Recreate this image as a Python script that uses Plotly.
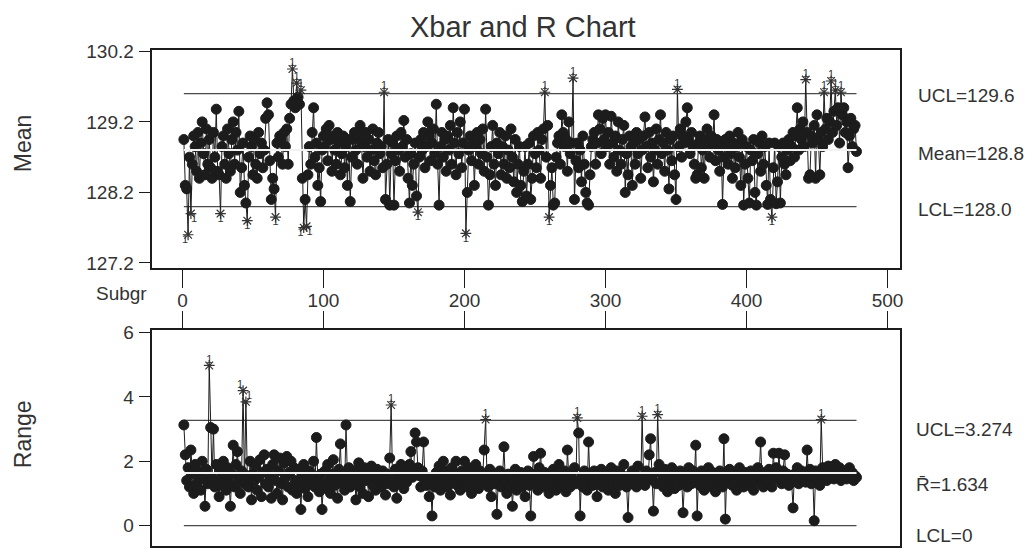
import plotly.graph_objects as go

# ---------------- data ----------------
mean_values = [
    128.95, 128.3, 128.25, 127.6, 128.7, 127.9, 128.6, 129.0, 128.85, 128.5, 129.05, 128.4, 128.9, 129.2, 128.75, 128.45, 129.1, 128.6, 128.95, 128.55,
    128.4, 129.05, 128.7, 129.38, 128.5, 128.45, 127.9, 128.85, 129.0, 128.6, 128.4, 129.1, 128.75, 128.5, 128.95, 129.2, 128.6, 129.05, 128.8, 129.35,
    128.2, 128.55, 128.9, 128.3, 128.05, 127.8, 128.7, 129.0, 128.85, 128.45, 128.95, 128.6, 128.4, 129.05, 128.75, 128.9, 128.55, 128.8, 129.25, 129.47,
    129.3, 128.65, 128.1, 128.4, 128.25, 127.85, 128.9, 128.7, 129.0, 128.95, 128.6, 129.05, 128.85, 129.1, 128.6, 129.25, 129.45, 129.95, 129.5, 129.4,
    129.75, 129.55, 129.45, 129.65, 128.4, 127.7, 128.1, 127.72, 128.45, 128.85, 128.6, 129.05, 129.4, 128.7, 128.9, 128.3, 128.55, 128.07, 128.8, 129.0,
    128.85, 129.1, 128.65, 129.15, 128.95, 128.5, 129.0, 128.8, 128.6, 129.05, 128.9, 128.45, 128.75, 129.0, 128.55, 128.85, 128.3, 128.95, 128.07, 128.7,
    128.95, 129.05, 128.8, 128.6, 129.0, 129.15, 128.9, 128.4, 128.85, 129.05, 128.7, 128.95, 128.5, 128.8, 129.1, 128.65, 128.45, 128.9, 129.05, 128.75,
    128.85, 128.55, 129.62, 128.1, 128.6, 128.95, 128.02, 128.75, 128.9, 128.02, 128.65, 129.0, 128.8, 128.5, 129.05, 128.85, 129.22, 128.7, 128.95, 128.4,
    128.05, 128.75, 128.3, 128.6, 128.9, 128.15, 127.92, 128.7, 128.95, 128.8, 129.05, 128.55, 128.85, 129.2, 129.0, 128.65, 128.9, 129.1, 128.75, 129.45,
    128.6, 128.02, 128.85, 129.05, 128.7, 128.95, 128.5, 129.0, 128.8, 129.15, 128.6, 129.4, 128.9, 128.45, 129.05, 128.75, 129.2, 128.55, 128.9, 129.38,
    127.62, 128.2, 128.8, 129.0, 128.65, 128.9, 128.3, 128.85, 129.05, 128.6, 128.95, 128.75, 129.1, 128.5, 129.38, 128.7, 128.02, 128.45, 128.85, 129.15,
    128.6, 128.3, 128.9, 128.75, 129.05, 128.45, 128.85, 128.6, 129.0, 128.4, 128.8, 128.55, 129.1, 128.7, 128.35, 128.95, 128.2, 128.6, 128.85, 128.3,
    128.07, 128.5, 128.85, 128.15, 128.6, 128.9, 128.1, 128.4, 129.0, 128.75, 128.55, 129.05, 128.8, 128.4, 128.95, 129.1, 129.62, 128.7, 129.15, 127.85,
    128.3, 128.55, 128.02, 128.05, 128.7, 128.9, 129.0, 128.6, 129.3, 129.05, 128.85, 128.95, 128.5, 129.2, 128.75, 128.9, 129.82, 128.1, 128.65, 128.9,
    128.55, 128.8, 128.35, 129.0, 128.6, 128.2, 128.05, 128.02, 128.45, 128.85, 128.95, 129.05, 128.6, 128.9, 129.3, 129.1, 128.75, 129.25, 128.95, 129.3,
    128.85, 129.05, 128.6, 129.28, 128.9, 128.7, 129.0, 128.5, 129.2, 128.8, 128.6, 128.95, 129.15, 128.2, 128.75, 128.45, 129.0, 128.85, 128.3, 128.9,
    128.6, 129.05, 128.75, 128.95, 128.4, 128.8, 129.0, 129.27, 128.85, 128.55, 129.05, 128.7, 128.9, 128.35, 128.8, 129.1, 128.6, 128.95, 129.3, 128.75,
    128.9, 128.5, 129.05, 128.8, 128.25, 128.95, 128.65, 129.0, 128.45, 128.1, 129.66, 128.85, 129.1, 128.7, 129.0, 128.9, 129.2, 129.4, 128.95, 128.75,
    129.05, 128.85, 128.6, 128.4, 128.45, 128.9, 129.0, 128.55, 128.8, 128.4, 128.95, 129.1, 128.85, 128.7, 129.0, 128.9, 129.3, 128.65, 128.95, 128.8,
    128.5, 128.9, 128.03, 128.7, 128.95, 128.85, 128.6, 129.0, 128.75, 128.4, 128.9, 128.55, 128.85, 129.05, 128.7, 128.3, 128.95, 128.02, 128.6, 128.85,
    128.4, 128.05, 128.8, 128.65, 128.95, 128.2, 128.02, 128.75, 128.9, 128.5, 129.0, 128.6, 128.85, 128.3, 128.03, 128.9, 128.1, 127.85, 128.55, 128.9,
    128.04, 128.35, 128.85, 128.05, 128.7, 128.9, 128.6, 128.45, 128.8, 128.95, 128.65, 128.85, 129.05, 128.7, 129.0, 129.4, 128.8, 129.1, 128.95, 129.2,
    128.85, 129.8, 129.05, 128.4, 128.45, 129.0, 128.9, 129.15, 128.4, 129.3, 128.95, 128.45, 129.05, 128.85, 129.62, 129.1, 129.25, 128.95, 129.2, 129.78,
    129.05, 129.35, 129.65, 129.15, 129.4, 128.9, 129.62, 129.3, 129.4, 129.05, 129.2, 128.55, 129.0, 129.25, 128.85, 129.1, 129.15, 128.78,
]

range_values = [
    3.13, 2.2, 1.4, 1.8, 1.2, 2.35, 1.6, 1.0, 1.9, 1.3, 1.7, 1.5, 1.1, 2.0, 1.45, 0.6, 1.75, 1.3, 4.98, 3.05,
    1.5, 3.0, 1.2, 1.9, 1.4, 0.9, 1.7, 1.25, 2.0, 1.5, 1.1, 1.8, 1.35, 0.6, 1.6, 2.5, 1.2, 1.9, 2.3, 1.45,
    1.0, 1.7, 4.2, 1.3, 3.85, 1.55, 1.2, 2.0, 0.8, 1.6, 1.4, 1.85, 1.1, 1.5, 2.05, 0.9, 1.65, 2.2, 1.3, 1.75,
    1.2, 1.55, 0.85, 1.9, 2.2, 1.4, 1.0, 1.7, 2.1, 1.3, 0.8, 1.95, 1.5, 2.15, 1.2, 1.65, 2.0, 1.1, 1.8, 1.4,
    1.0, 1.75, 1.3, 0.5, 1.6, 1.9, 1.15, 1.45, 0.9, 1.7, 1.3, 1.55, 2.0, 1.2, 2.74, 1.4, 1.05, 1.6, 0.5, 1.3,
    1.7, 1.15, 1.9, 1.4, 1.0, 1.6, 2.05, 1.25, 1.5, 0.85, 1.75, 2.54, 1.3, 1.6, 1.1, 3.13, 1.45, 1.8, 1.2, 1.55,
    1.35, 1.7, 0.8, 1.5, 1.95, 1.2, 1.6, 1.0, 1.8, 1.4, 1.65, 0.9, 1.5, 1.85, 1.25, 1.6, 1.1, 1.75, 1.4, 1.55,
    1.2, 1.7, 1.45, 0.95, 1.6, 1.3, 2.1, 3.75, 1.4, 1.2, 1.75, 0.85, 1.55, 1.3, 1.9, 1.45, 1.15, 1.7, 1.35, 1.6,
    1.9, 2.3, 1.5, 1.7, 2.88, 2.6, 1.8, 1.55, 1.2, 1.7, 2.6, 1.4, 1.25, 1.5, 0.9, 1.35, 0.3, 1.5, 1.2, 1.65,
    1.3, 1.85, 1.1, 1.55, 2.0, 1.4, 1.7, 1.2, 1.5, 0.95, 1.8, 1.35, 1.6, 2.0, 1.25, 1.5, 1.1, 1.7, 1.4, 2.0,
    1.55, 1.2, 1.8, 1.4, 1.0, 1.65, 1.3, 1.9, 1.5, 1.15, 1.7, 1.35, 1.6, 2.35, 3.3, 1.45, 1.2, 1.75, 0.9, 1.5,
    1.3, 1.6, 0.35, 1.45, 1.7, 1.2, 1.55, 2.45, 1.35, 1.0, 1.6, 1.25, 1.5, 0.6, 1.4, 1.75, 1.1, 1.5, 1.3, 1.65,
    1.2, 1.55, 0.9, 1.4, 1.7, 1.25, 0.3, 1.6, 2.15, 1.35, 1.5, 1.1, 1.8, 2.25, 1.45, 1.2, 1.65, 1.3, 1.5, 1.0,
    1.6, 1.3, 1.75, 1.45, 1.1, 1.55, 1.9, 1.25, 1.5, 1.35, 1.7, 1.05, 2.35, 1.5, 1.2, 1.65, 1.4, 1.8, 1.3, 3.35,
    2.88, 0.3, 1.5, 1.2, 1.7, 1.45, 1.1, 2.6, 1.35, 1.55, 1.25, 1.7, 1.4, 0.9, 1.6, 1.3, 1.75, 1.2, 1.5, 1.4,
    1.65, 1.1, 1.45, 1.8, 1.3, 1.55, 1.0, 1.7, 1.4, 1.25, 1.6, 1.35, 1.9, 1.5, 1.2, 0.25, 1.55, 1.4, 1.7, 1.3,
    1.6, 1.2, 1.85, 1.45, 1.3, 3.4, 1.55, 1.25, 1.7, 1.4, 2.2, 2.7, 1.5, 0.45, 1.65, 1.3, 3.45, 1.9, 1.35, 1.6,
    1.2, 1.75, 1.4, 1.05, 1.6, 1.3, 1.8, 1.5, 1.15, 1.65, 1.4, 1.25, 1.7, 1.5, 0.4, 1.35, 1.6, 1.2, 1.8, 1.45,
    1.3, 1.7, 1.5, 2.5, 0.3, 1.55, 1.25, 1.7, 1.4, 1.1, 1.6, 1.35, 1.8, 1.5, 1.2, 1.65, 1.4, 1.05, 1.55, 1.3,
    1.7, 1.45, 1.2, 2.7, 0.2, 1.6, 1.35, 1.75, 1.5, 1.25, 1.6, 1.4, 1.1, 1.55, 1.8, 1.3, 1.5, 1.2, 1.65, 1.4,
    1.55, 1.25, 1.7, 1.4, 1.1, 1.6, 1.35, 1.8, 1.5, 2.6, 1.45, 1.2, 1.65, 1.4, 1.3, 1.75, 1.5, 1.2, 2.25, 1.6,
    1.8, 1.45, 2.25, 1.55, 1.3, 1.7, 2.2, 1.4, 1.6, 1.25, 1.5, 1.35, 0.55, 1.6, 1.45, 1.8, 1.3, 1.55, 1.7, 1.4,
    1.6, 1.35, 2.35, 1.5, 1.75, 1.3, 1.55, 0.15, 1.7, 1.45, 1.6, 1.25, 3.3, 1.8, 1.55, 1.7, 1.4, 1.85, 1.6, 1.5,
    1.75, 1.45, 1.9, 1.6, 1.5, 1.8, 1.4, 1.65, 1.55, 1.7, 1.45, 1.6, 1.8, 1.5, 1.65, 1.4, 1.55, 1.5,
]

mean_ucl, mean_center, mean_lcl = 129.6, 128.8, 128.0
range_ucl, range_center, range_lcl = 3.274, 1.634, 0.0

x_tick_values = [0, 100, 200, 300, 400, 500]
mean_tick_values = [127.2, 128.2, 129.2, 130.2]
mean_tick_labels = ["127.2", "128.2", "129.2", "130.2"]
range_tick_values = [0, 2, 4, 6]

mean_labels = ["UCL=129.6", "Mean=128.8", "LCL=128.0"]
range_labels = ["UCL=3.274", "R\u0304=1.634", "LCL=0"]

# ---------------- figure ----------------
W, H = 1033, 557
INK = "#1c1c1c"
TXT = "#333333"
FONT = "Liberation Sans, Arial, sans-serif"


def px_x(p):
    return p / W


def px_y(p):
    return 1 - p / H


fig = go.Figure()


def label_positions(xs, base):
    """Spread labels of neighbouring failures sideways so they do not collide."""
    pos = []
    for i, x in enumerate(xs):
        if i + 1 < len(xs) and xs[i + 1] - x <= 2:
            pos.append(base + " left")
        elif i > 0 and x - xs[i - 1] <= 2:
            pos.append(base + " right")
        else:
            pos.append(base + " center")
    return pos


def add_chart(values, ucl, center, lcl, xa, ya, high_only):
    n = len(values)
    xs = list(range(1, n + 1))
    hi = [v > ucl for v in values]
    lo = [(not high_only) and v < lcl for v in values]
    flags = [a or b for a, b in zip(hi, lo)]
    # control limits
    for lim in (ucl, lcl):
        fig.add_trace(go.Scatter(x=[1, n], y=[lim, lim], mode="lines",
                                 line=dict(color="#4a4a4a", width=1.2),
                                 xaxis=xa, yaxis=ya, hoverinfo="skip",
                                 showlegend=False))
    # connecting line
    fig.add_trace(go.Scatter(x=xs, y=values, mode="lines",
                             line=dict(color=INK, width=1),
                             xaxis=xa, yaxis=ya, hoverinfo="skip",
                             showlegend=False))
    # in-control points
    fig.add_trace(go.Scatter(x=[x for x, f in zip(xs, flags) if not f],
                             y=[v for v, f in zip(values, flags) if not f],
                             mode="markers",
                             marker=dict(symbol="circle", size=10, color=INK,
                                         opacity=1,
                                         line=dict(color=INK, width=1)),
                             xaxis=xa, yaxis=ya, showlegend=False))
    # out-of-control points
    fig.add_trace(go.Scatter(x=[x for x, f in zip(xs, flags) if f],
                             y=[v for v, f in zip(values, flags) if f],
                             mode="markers",
                             marker=dict(symbol="asterisk-open", size=9,
                                         color="#333333", opacity=1,
                                         line=dict(color="#333333", width=1.2)),
                             xaxis=xa, yaxis=ya, showlegend=False))
    # center line drawn over the points
    fig.add_trace(go.Scatter(x=[1, n], y=[center, center], mode="lines",
                             line=dict(color="#f2f2f2", width=2),
                             xaxis=xa, yaxis=ya, hoverinfo="skip",
                             showlegend=False))
    # test-1 failure labels
    for mask, base in ((hi, "top"), (lo, "bottom")):
        fx = [x for x, f in zip(xs, mask) if f]
        fy = [v for v, f in zip(values, mask) if f]
        if not fx:
            continue
        fig.add_trace(go.Scatter(x=fx, y=fy, mode="text", text=["1"] * len(fx),
                                 textposition=label_positions(fx, base),
                                 textfont=dict(size=11, color=TXT, family=FONT),
                                 xaxis=xa, yaxis=ya, hoverinfo="skip",
                                 showlegend=False))


add_chart(mean_values, mean_ucl, mean_center, mean_lcl, "x", "y", False)
add_chart(range_values, range_ucl, range_center, range_lcl, "x2", "y2", True)

x_dom = [px_x(153), px_x(903)]
axis_common = dict(showgrid=False, zeroline=False, showline=True, mirror=True,
                   linecolor=INK, linewidth=1.5, ticks="outside",
                   tickcolor=INK, tickwidth=1.3,
                   tickfont=dict(size=19, color=TXT, family=FONT))

fig.update_layout(
    width=W, height=H,
    margin=dict(l=0, r=0, t=0, b=0),
    paper_bgcolor="white", plot_bgcolor="white",
    showlegend=False,
    xaxis=dict(domain=x_dom, range=[-21.3, 508.5], tickvals=x_tick_values,
               ticklen=18, anchor="y", ticklabelstandoff=-3, **axis_common),
    yaxis=dict(domain=[px_y(266), px_y(42)], range=[127.131, 130.221],
               tickvals=mean_tick_values, ticktext=mean_tick_labels,
               ticklen=12, anchor="x", ticklabelstandoff=1, **axis_common),
    xaxis2=dict(domain=x_dom, range=[-21.3, 508.5], tickvals=x_tick_values,
                ticklen=17, side="top", showticklabels=False, anchor="y2",
                **axis_common),
    yaxis2=dict(domain=[px_y(552), px_y(330)], range=[-0.64, 6.08],
                tickvals=range_tick_values, ticklen=12, anchor="x2",
                ticklabelstandoff=1, **axis_common),
)

annotations = [
    dict(text="Xbar and R Chart", x=px_x(525), y=px_y(19), font=dict(size=29)),
    dict(text="Mean", x=px_x(23), y=px_y(138), textangle=-90, font=dict(size=23)),
    dict(text="Range", x=px_x(23), y=px_y(437), textangle=-90, font=dict(size=23)),
    dict(text="Subgr", x=px_x(122), y=px_y(292), font=dict(size=19)),
]
for lbl, yy in zip(mean_labels, [89, 148, 206]):
    annotations.append(dict(text=lbl, x=px_x(920), y=px_y(yy), xanchor="left",
                            font=dict(size=19)))
for lbl, yy in zip(range_labels, [432, 489, 541]):
    annotations.append(dict(text=lbl, x=px_x(918), y=px_y(yy), xanchor="left",
                            font=dict(size=19)))
for a in annotations:
    a.setdefault("xanchor", "center")
    a.update(xref="paper", yref="paper", yanchor="middle", showarrow=False)
    a["font"].update(color=TXT, family=FONT)
fig.update_layout(annotations=annotations)

fig.write_html("out.html")
